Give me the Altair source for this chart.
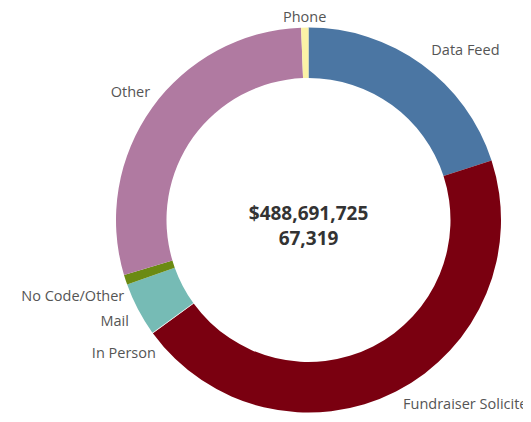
import altair as alt
import pandas as pd

# ---- data ----
channels = ["Data Feed", "Fundraiser Solicited", "In Person", "Mail",
            "No Code/Other", "Other", "Phone"]
amounts = [97_700_000, 219_900_000, 300_000, 22_000_000,
           4_100_000, 141_700_000, 2_991_725]
colors = ["#4b76a3", "#7a0010", "#f2f2f2", "#76bbb5",
          "#6b8a12", "#b07aa1", "#fbf2a6"]
center_lines = ["$488,691,725", "67,319"]

df = pd.DataFrame({"channel": channels, "amount": amounts})
center_df = pd.DataFrame({"line": ["\n".join(center_lines)]})

CX, CY = 300.5, 212
FONT = "Open Sans"

base = alt.Chart(df).encode(
    theta=alt.Theta("amount:Q", stack=True),
    order=alt.Order("channel:N", sort="ascending"),
    x=alt.value(CX),
    y=alt.value(CY),
)

arcs = base.mark_arc(radius=192.5, innerRadius=142).encode(
    color=alt.Color("channel:N",
                    scale=alt.Scale(domain=channels, range=colors),
                    legend=None)
)


def label_layer(names, radius, align="center"):
    return base.mark_text(radius=radius, align=align, baseline="middle",
                          font=FONT, fontSize=14.5, color="#555555").encode(
        text=alt.condition(
            alt.FieldOneOfPredicate(field="channel", oneOf=names),
            alt.Text("channel:N"),
            alt.value(""),
        )
    )


labels = [
    label_layer(["Other", "Mail"], 219),
    label_layer(["In Person"], 228),
    label_layer(["Phone"], 202),
    label_layer(["No Code/Other"], 248),
    label_layer(["Data Feed"], 209, align="left"),
    label_layer(["Fundraiser Solicited"], 208, align="left"),
]

center = alt.Chart(center_df).mark_text(
    font=FONT, fontSize=19, fontWeight="bold", color="#333333",
    align="center", baseline="middle", lineBreak="\n", lineHeight=25,
    dy=-6
).encode(
    text="line:N",
    x=alt.value(CX),
    y=alt.value(CY),
)

chart = alt.layer(arcs, *labels, center).properties(
    width=515, height=406, padding=0,
    autosize=alt.AutoSizeParams(type="none"),
).configure_view(stroke=None)

chart.save("out.html", embed_options={"renderer": "svg", "actions": False})
